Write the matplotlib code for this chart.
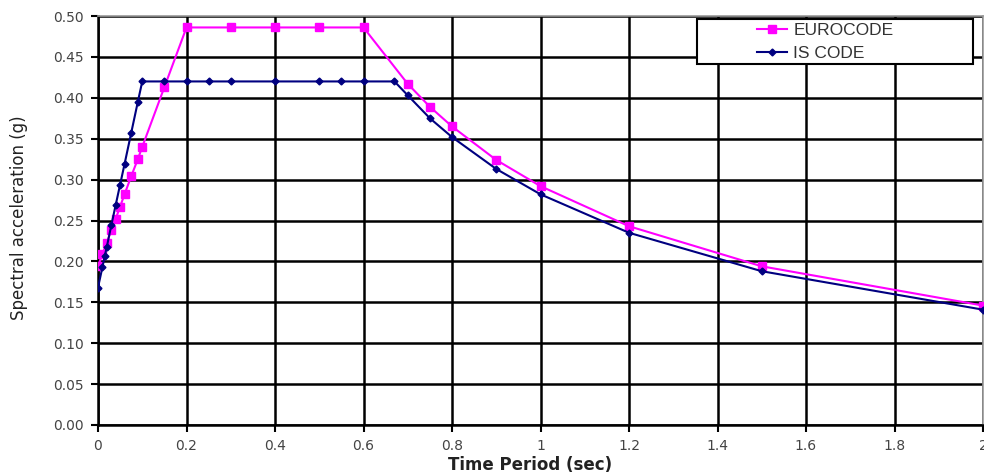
import matplotlib
matplotlib.use("Agg")
import matplotlib.pyplot as plt
from matplotlib.patches import Rectangle

# IS CODE (blue diamonds)
is_T = [0, 0.01, 0.015, 0.02, 0.03, 0.04, 0.05, 0.06, 0.075, 0.09, 0.1,
        0.15, 0.2, 0.25, 0.3, 0.4, 0.5, 0.55, 0.6, 0.67, 0.7, 0.75, 0.8,
        0.9, 1.0, 1.2, 1.5, 2.0]
is_Sa = [0.168, 0.193, 0.206, 0.218, 0.244, 0.269, 0.294, 0.319, 0.357, 0.395, 0.420,
         0.420, 0.420, 0.420, 0.420, 0.420, 0.420, 0.420, 0.420, 0.420, 0.403, 0.375, 0.352,
         0.313, 0.282, 0.235, 0.188, 0.141]

# EUROCODE (magenta squares)
eu_T = [0, 0.01, 0.02, 0.03, 0.04, 0.05, 0.06, 0.075, 0.09, 0.1, 0.15,
        0.2, 0.3, 0.4, 0.5, 0.6, 0.7, 0.75, 0.8, 0.9, 1.0, 1.2, 1.5, 2.0]
eu_Sa = [0.194, 0.209, 0.223, 0.238, 0.252, 0.267, 0.282, 0.304, 0.325, 0.340, 0.413,
         0.486, 0.486, 0.486, 0.486, 0.486, 0.417, 0.389, 0.365, 0.324, 0.292, 0.243, 0.194, 0.146]

x_ticks = [0, 0.2, 0.4, 0.6, 0.8, 1.0, 1.2, 1.4, 1.6, 1.8, 2.0]
x_labels = ["0", "0.2", "0.4", "0.6", "0.8", "1", "1.2", "1.4", "1.6", "1.8", "2"]
y_ticks = [0.00, 0.05, 0.10, 0.15, 0.20, 0.25, 0.30, 0.35, 0.40, 0.45, 0.50]

plt.rcParams['font.family'] = ['DejaVu Sans']

W, H = 984, 476
fig = plt.figure(figsize=(W / 100, H / 100), dpi=100)
ax_l, ax_r, ax_t, ax_b = 98, 983, 16, 425
ax = fig.add_axes([ax_l / W, (H - ax_b) / H, (ax_r - ax_l) / W, (ax_b - ax_t) / H])


def ax_xy(px, py):
    return (px - ax_l) / (ax_r - ax_l), (ax_b - py) / (ax_b - ax_t)


ax.plot(eu_T, eu_Sa, color='#FF00FF', lw=1.5, marker='s', ms=5.5,
        label='EUROCODE', zorder=4)
ax.plot(is_T, is_Sa, color='#000080', lw=1.5, marker='D', ms=3.5,
        label='IS CODE', zorder=5)

ax.set_xlim(0, 2.0)
ax.set_ylim(0, 0.5)
ax.set_xticks(x_ticks)
ax.set_xticklabels(x_labels)
ax.set_yticks(y_ticks)
ax.set_yticklabels([f"{v:.2f}" for v in y_ticks])
ax.grid(True, color='black', lw=1.8, zorder=1)
ax.set_axisbelow(True)

for s in ['left', 'bottom']:
    ax.spines[s].set_color('black')
    ax.spines[s].set_linewidth(1.8)
for s in ['top', 'right']:
    ax.spines[s].set_color('#999999')
    ax.spines[s].set_linewidth(1.2)

ax.tick_params(axis='both', direction='out', length=5, width=1.5,
               colors='black', labelcolor='#444444', labelsize=10)
ax.tick_params(axis='x', pad=5)
ax.tick_params(axis='y', pad=5)

ax.set_xlabel('Time Period (sec)', fontsize=12, fontweight='bold',
              color='#222222')
ax.xaxis.set_label_coords(*ax_xy(530, 456))
ax.set_ylabel('Spectral acceleration (g)', fontsize=12, color='#222222')
ax.yaxis.set_label_coords(*ax_xy(28, 218))

# legend box
x0, y0 = ax_xy(697, 64)
x1, y1 = ax_xy(973, 19)
ax.add_patch(Rectangle((x0, y0), x1 - x0, y1 - y0, transform=ax.transAxes,
                       facecolor='white', edgecolor='black', lw=1.5,
                       zorder=6, clip_on=False))
lx, ly = ax_xy(757, 23)
leg = ax.legend(loc='upper left', bbox_to_anchor=(lx, ly),
                frameon=False, borderpad=0, borderaxespad=0,
                handlelength=1.75, handletextpad=0.35, labelspacing=0.45,
                prop={'family': 'Liberation Sans', 'size': 12.5})
leg.set_zorder(7)
for t in leg.get_texts():
    t.set_color('#333333')

fig.savefig('out.png', dpi=100)
